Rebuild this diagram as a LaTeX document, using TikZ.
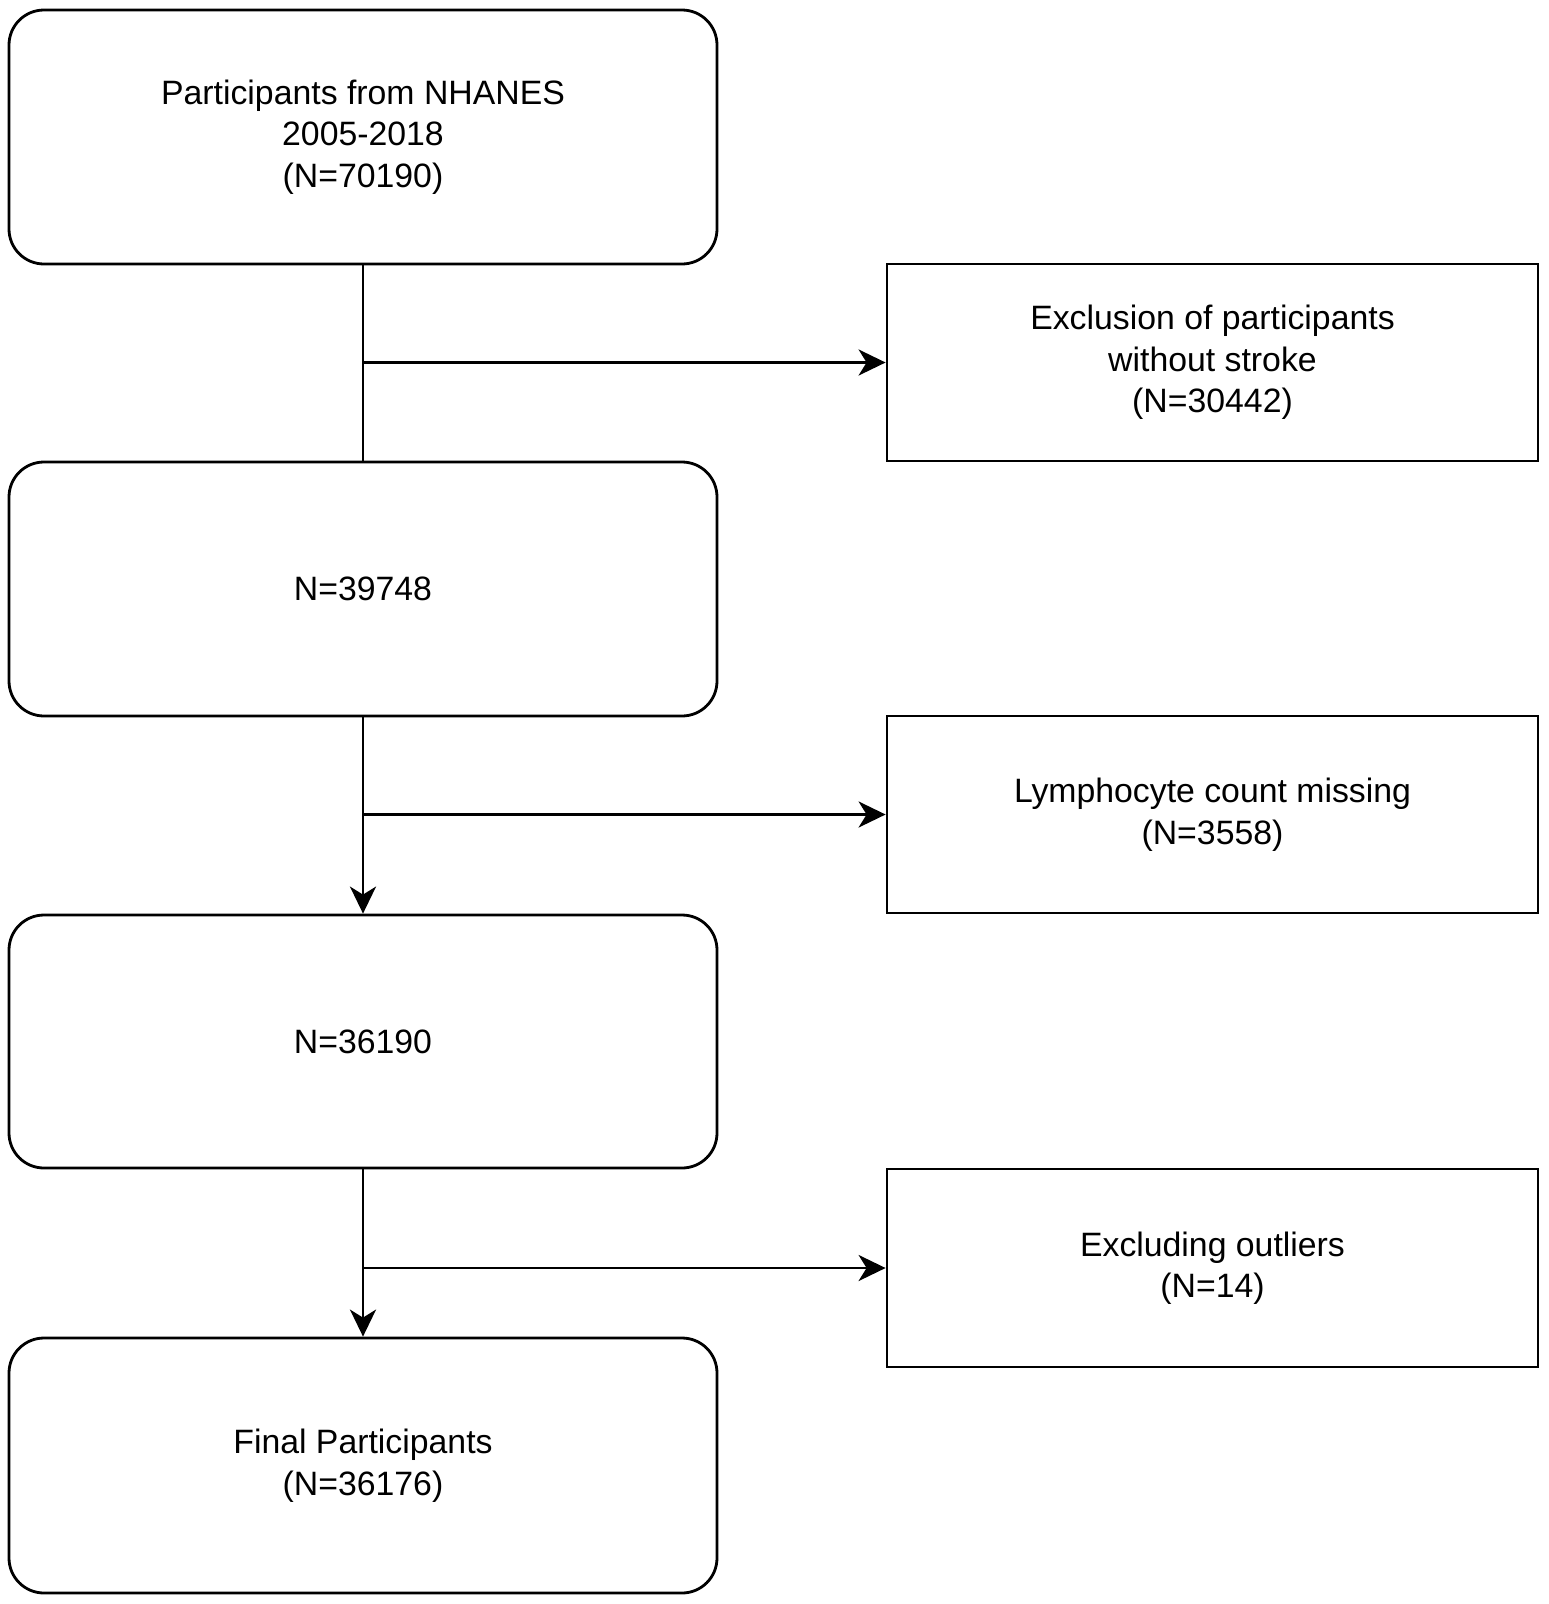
\documentclass[tikz,border=0pt]{standalone}
\usepackage{fontspec}
\setmainfont{Liberation Sans}
\usetikzlibrary{arrows.meta}
\begin{document}
\begin{tikzpicture}[x=1pt,y=-1pt,
  line width=2.8pt,
  txt/.style={align=center,font=\fontsize{33.8}{41.5}\selectfont,inner sep=0pt},
  roundbox/.style={txt,draw,rounded corners=35pt,minimum width=708pt},
  sqbox/.style={txt,draw,minimum width=651pt,minimum height=197pt},
  arr/.style={-{Stealth[length=27pt,width=26pt,inset=8pt]}}]
\useasboundingbox (0,0) rectangle (1548,1604);
\node[roundbox,minimum height=254pt] (b1) at (363,137) {Participants from NHANES\\2005-2018\\(N=70190)};
\node[sqbox] (r1) at (1212.5,362.5) {Exclusion of participants\\without stroke\\(N=30442)};
\node[roundbox,minimum height=254pt] (b2) at (363,589) {N=39748};
\node[sqbox] (r2) at (1212.5,814.5) {Lymphocyte count missing\\(N=3558)};
\node[roundbox,minimum height=253pt] (b3) at (363,1041.5) {N=36190};
\node[sqbox,minimum height=198pt] (r3) at (1212.5,1268) {Excluding outliers\\(N=14)};
\node[roundbox,minimum height=255pt] (b4) at (363,1465.5) {Final Participants\\(N=36176)};
\draw (b1.south) -- (b2.north);
\draw[arr] (b1.south |- r1.west) -- (r1.west);
\draw[arr] (b2.south) -- (b3.north);
\draw[arr] (b2.south |- r2.west) -- (r2.west);
\draw[arr] (b3.south) -- (b4.north);
\draw[arr] (b3.south |- r3.west) -- (r3.west);
\end{tikzpicture}
\end{document}
